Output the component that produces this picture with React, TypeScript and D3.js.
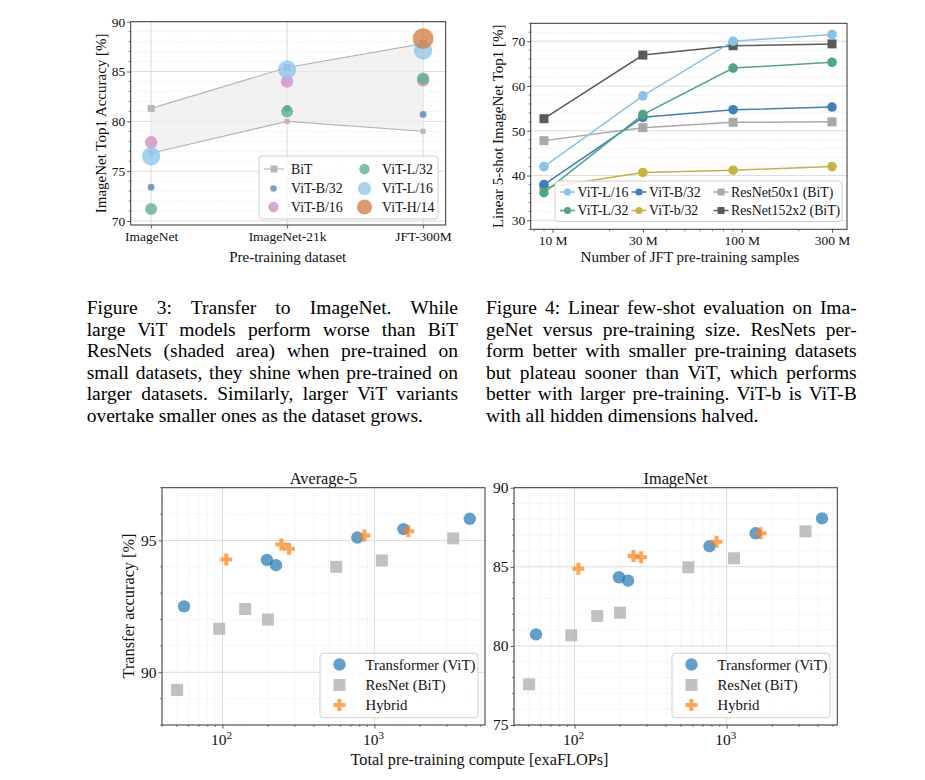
import { useEffect, useRef } from "react"
import * as d3 from "d3"

const FONT = "'Liberation Serif', 'Times New Roman', serif"

// Figure 3: transfer to ImageNet
const datasets = ["ImageNet", "ImageNet-21k", "JFT-300M"]
const bitUpper = [81.3, 85.4, 87.8]
const bitLower = [76.8, 80.0, 79.0]
const vitB32 = [73.4, 81.3, 80.7]
const vitB16 = [77.9, 84.0, 84.1]
const vitL32 = [71.2, 81.0, 84.3]
const vitL16 = [76.5, 85.2, 87.1]
const vitH14 = [null, null, 88.3]

// Figure 4: linear 5-shot vs pre-training samples (millions)
const samples = [9, 30, 90, 300]
const sampleTicks = [10, 30, 100, 300]
const fsL16 = [42.0, 57.8, 70.0, 71.5]
const fsL32 = [36.2, 53.6, 64.0, 65.3]
const fsB32 = [38.0, 53.0, 54.7, 55.3]
const fsb32 = [37.3, 40.7, 41.2, 42.0]
const fsR50 = [47.8, 50.7, 51.9, 52.0]
const fsR152 = [52.7, 66.9, 69.0, 69.4]

// Figure 5: transfer accuracy vs compute (exaFLOPs)
const vitCompute = [55.8, 196, 225, 772, 1550, 4240]
const resnetCompute = [50.3, 95.2, 141, 199, 560, 1118, 3300]
const hybridCompute = [106, 244, 274, 859, 1671]
const avg5Vit = [92.5, 94.26, 94.06, 95.11, 95.43, 95.82]
const avg5Resnet = [89.33, 91.65, 92.4, 92.0, 94.0, 94.24, 95.08]
const avg5Hybrid = [94.28, 94.85, 94.68, 95.19, 95.35]
const inetVit = [80.73, 84.34, 84.12, 86.3, 87.12, 88.06]
const inetResnet = [77.57, 80.67, 81.89, 82.1, 84.97, 85.54, 87.24]
const inetHybrid = [84.88, 85.68, 85.6, 86.59, 87.12]

const captionLeft = [
  "Figure 3:  Transfer to ImageNet.  While",
  "large ViT models perform worse than BiT",
  "ResNets (shaded area) when pre-trained on",
  "small datasets, they shine when pre-trained on",
  "larger datasets.  Similarly, larger ViT variants",
  "overtake smaller ones as the dataset grows.",
]
const captionRight = [
  "Figure 4: Linear few-shot evaluation on Ima-",
  "geNet versus pre-training size.  ResNets per-",
  "form better with smaller pre-training datasets",
  "but plateau sooner than ViT, which performs",
  "better with larger pre-training. ViT-b is ViT-B",
  "with all hidden dimensions halved.",
]

type G = d3.Selection<SVGGElement, unknown, null, undefined>

const GRID_MAJOR = "#dcdcdc"
const GRID_MINOR = "#e2e2e2"
const TOP_TICK = 13.5
const TOP_LABEL = 15
const BOT_TICK = 15.5
const BOT_LABEL = 16.3
const BOT_LEGEND = 14.8

function styleAxis(a: G, size: number) {
  a.select(".domain").remove()
  a.selectAll("text").attr("font-family", FONT).attr("font-size", size).attr("fill", "#111")
  a.selectAll("line").attr("stroke", "#333").attr("stroke-width", 0.8)
}

function frame(g: G, x0: number, y0: number, x1: number, y1: number) {
  g.append("rect")
    .attr("x", x0).attr("y", y0).attr("width", x1 - x0).attr("height", y1 - y0)
    .attr("fill", "none").attr("stroke", "#333").attr("stroke-width", 1)
}

function hGrid(g: G, y: d3.ScaleLinear<number, number>, x0: number, x1: number, major: number[], minor: number[]) {
  g.selectAll(null).data(minor).join("line")
    .attr("x1", x0).attr("x2", x1).attr("y1", (d) => y(d)).attr("y2", (d) => y(d))
    .attr("stroke", GRID_MINOR).attr("stroke-width", 0.8).attr("stroke-dasharray", "1,1.5")
  g.selectAll(null).data(major).join("line")
    .attr("x1", x0).attr("x2", x1).attr("y1", (d) => y(d)).attr("y2", (d) => y(d))
    .attr("stroke", GRID_MAJOR).attr("stroke-width", 1)
}

function vGrid(g: G, x: (v: number) => number, y0: number, y1: number, major: number[], minor: number[]) {
  g.selectAll(null).data(minor).join("line")
    .attr("y1", y0).attr("y2", y1).attr("x1", (d) => x(d)).attr("x2", (d) => x(d))
    .attr("stroke", GRID_MINOR).attr("stroke-width", 0.8).attr("stroke-dasharray", "1,1.5")
  g.selectAll(null).data(major).join("line")
    .attr("y1", y0).attr("y2", y1).attr("x1", (d) => x(d)).attr("x2", (d) => x(d))
    .attr("stroke", GRID_MAJOR).attr("stroke-width", 1)
}

function label(g: G, text: string, x: number, y: number, size: number, rotate = false) {
  g.append("text")
    .attr("transform", rotate ? `translate(${x},${y}) rotate(-90)` : `translate(${x},${y})`)
    .attr("text-anchor", "middle")
    .attr("font-family", FONT).attr("font-size", size).attr("fill", "#111")
    .text(text)
}

function legendBox(g: G, x0: number, y0: number, x1: number, y1: number) {
  g.append("rect")
    .attr("x", x0).attr("y", y0).attr("width", x1 - x0).attr("height", y1 - y0)
    .attr("rx", 3).attr("fill", "#fff").attr("fill-opacity", 0.8)
    .attr("stroke", "#d0d0d0").attr("stroke-width", 1)
}

function legendText(g: G, text: string, x: number, y: number, size: number) {
  g.append("text").attr("x", x).attr("y", y).attr("dy", "0.35em")
    .attr("font-family", FONT).attr("font-size", size).attr("fill", "#111").text(text)
}

function range(a: number, b: number, step: number) {
  return d3.range(a, b + step / 2, step)
}

function logMinor(lo: number, hi: number, majors: number[]) {
  const out: number[] = []
  for (let e = Math.floor(Math.log10(lo)); e <= Math.ceil(Math.log10(hi)); e++) {
    for (let k = 1; k <= 9; k++) {
      const v = k * 10 ** e
      if (v >= lo && v <= hi && !majors.includes(v)) out.push(v)
    }
  }
  return out
}

function drawFig3(g: G) {
  const [x0, x1, y0, y1] = [130.7, 445.7, 21.7, 225]
  const x = d3.scaleLinear().domain([-0.15, 2.166]).range([x0, x1])
  const y = d3.scaleLinear().domain([69.6, 90]).range([y1, y0])
  const idx = [0, 1, 2]

  hGrid(g, y, x0, x1, range(70, 90, 5), range(70, 90, 1).filter((v) => v % 5 !== 0))
  vGrid(g, x, y0, y1, idx, [])

  const area = d3.area<number>().x((i) => x(i)).y0((i) => y(bitLower[i])).y1((i) => y(bitUpper[i]))
  g.append("path").attr("d", area(idx)).attr("fill", "#ececec").attr("fill-opacity", 0.7)
  const line = (vals: number[]) => d3.line<number>().x((i) => x(i)).y((i) => y(vals[i]))(idx)
  ;[bitUpper, bitLower].forEach((vals, k) => {
    g.append("path").attr("d", line(vals)).attr("fill", "none").attr("stroke", "#b4b4b4").attr("stroke-width", 1.1)
    const s = k === 0 ? 7 : 5
    g.selectAll(null).data(idx).join("rect")
      .attr("x", (i) => x(i) - s / 2).attr("y", (i) => y(vals[i]) - s / 2)
      .attr("width", s).attr("height", s).attr("fill", "#b8b8b8")
  })

  const vit = [
    { name: "ViT-B/32", vals: vitB32, r: 3.4, color: "#4f86c0", lr: 3.2 },
    { name: "ViT-B/16", vals: vitB16, r: 6.2, color: "#cf8fc0", lr: 5.2 },
    { name: "ViT-L/32", vals: vitL32, r: 6.0, color: "#5cae8c", lr: 5.2 },
    { name: "ViT-L/16", vals: vitL16, r: 9.2, color: "#8ec7ee", lr: 6.6 },
    { name: "ViT-H/14", vals: vitH14, r: 10.4, color: "#d57d46", lr: 7.6 },
  ]
  vit.forEach((s) => {
    g.selectAll(null).data(idx.filter((i) => s.vals[i] != null)).join("circle")
      .attr("cx", (i) => x(i)).attr("cy", (i) => y(s.vals[i] as number)).attr("r", s.r)
      .attr("fill", s.color).attr("fill-opacity", 0.78)
  })

  frame(g, x0, y0, x1, y1)
  const ax = g.append("g").attr("transform", `translate(0,${y1})`)
    .call(d3.axisBottom(x).tickValues(idx).tickFormat((i) => datasets[i as number]).tickSize(3.5).tickPadding(3))
  styleAxis(ax, TOP_TICK)
  const ay = g.append("g").attr("transform", `translate(${x0},0)`)
    .call(d3.axisLeft(y).tickValues(range(70, 90, 5)).tickSize(3.5).tickPadding(2))
  styleAxis(ay, TOP_TICK)
  g.selectAll(null).data(range(70, 90, 1).filter((v) => v % 5 !== 0)).join("line")
    .attr("x1", x0 - 2).attr("x2", x0).attr("y1", (d) => y(d)).attr("y2", (d) => y(d))
    .attr("stroke", "#333").attr("stroke-width", 0.6)

  label(g, "ImageNet Top1 Accuracy [%]", 106, (y0 + y1) / 2, TOP_LABEL, true)
  label(g, "Pre-training dataset", (x0 + x1) / 2 - 0.5, 262, TOP_LABEL)

  // legend
  legendBox(g, 259, 156, 438, 219)
  const rows = [169, 188.5, 207]
  g.append("line").attr("x1", 264).attr("x2", 284).attr("y1", rows[0]).attr("y2", rows[0])
    .attr("stroke", "#b4b4b4").attr("stroke-width", 1.1)
  g.append("rect").attr("x", 270.5).attr("y", rows[0] - 3.5).attr("width", 7).attr("height", 7).attr("fill", "#b8b8b8")
  legendText(g, "BiT", 291, rows[0], 13.8)
  const slots = [
    [273.5, rows[1], 291], [273.5, rows[2], 291],
    [364.5, rows[0], 382], [364.5, rows[1], 382], [364.5, rows[2], 382],
  ]
  vit.forEach((s, k) => {
    const [mx, my, tx] = slots[k]
    g.append("circle").attr("cx", mx).attr("cy", my).attr("r", s.lr).attr("fill", s.color).attr("fill-opacity", 0.78)
    legendText(g, s.name, tx, my, 13.8)
  })
}

function drawFig4(g: G) {
  const [x0, x1, y0, y1] = [530.7, 847, 23.3, 229.3]
  const x = d3.scaleLog().domain([7.66, 360]).range([x0, x1])
  const y = d3.scaleLinear().domain([28, 74]).range([y1, y0])

  hGrid(g, y, x0, x1, range(30, 70, 10), range(28, 74, 2).filter((v) => v % 10 !== 0))

  const series = [
    { name: "ResNet50x1 (BiT)", vals: fsR50, color: "#a9a9a9", sq: true },
    { name: "ResNet152x2 (BiT)", vals: fsR152, color: "#5a5a5a", sq: true },
    { name: "ViT-b/32", vals: fsb32, color: "#c5b43f", sq: false },
    { name: "ViT-B/32", vals: fsB32, color: "#3f7fbf", sq: false },
    { name: "ViT-L/32", vals: fsL32, color: "#4fa585", sq: false },
    { name: "ViT-L/16", vals: fsL16, color: "#86c2ec", sq: false },
  ]
  const idx = d3.range(samples.length)
  series.forEach((s) => {
    g.append("path")
      .attr("d", d3.line<number>().x((i) => x(samples[i])).y((i) => y(s.vals[i]))(idx))
      .attr("fill", "none").attr("stroke", s.color).attr("stroke-width", 1.5)
    if (s.sq) {
      g.selectAll(null).data(idx).join("rect")
        .attr("x", (i) => x(samples[i]) - 4.5).attr("y", (i) => y(s.vals[i]) - 4.5)
        .attr("width", 9).attr("height", 9).attr("fill", s.color)
    } else {
      g.selectAll(null).data(idx).join("circle")
        .attr("cx", (i) => x(samples[i])).attr("cy", (i) => y(s.vals[i])).attr("r", 4.8).attr("fill", s.color)
    }
  })

  frame(g, x0, y0, x1, y1)
  const ax = g.append("g").attr("transform", `translate(0,${y1})`)
    .call(d3.axisBottom(x).tickValues(sampleTicks).tickFormat((d) => `${d} M`).tickSize(3.5).tickPadding(3))
  styleAxis(ax, TOP_TICK)
  g.selectAll(null).data(logMinor(7.66, 360, sampleTicks)).join("line")
    .attr("x1", (d) => x(d)).attr("x2", (d) => x(d)).attr("y1", y1).attr("y2", y1 + 2)
    .attr("stroke", "#333").attr("stroke-width", 0.6)
  const ay = g.append("g").attr("transform", `translate(${x0},0)`)
    .call(d3.axisLeft(y).tickValues(range(30, 70, 10)).tickSize(3.5).tickPadding(2))
  styleAxis(ay, TOP_TICK)
  g.selectAll(null).data(range(28, 74, 2).filter((v) => v % 10 !== 0)).join("line")
    .attr("x1", x0 - 2).attr("x2", x0).attr("y1", (d) => y(d)).attr("y2", (d) => y(d))
    .attr("stroke", "#333").attr("stroke-width", 0.6)

  label(g, "Linear 5-shot ImageNet Top1 [%]", 503, (y0 + y1) / 2, TOP_LABEL, true)
  label(g, "Number of JFT pre-training samples", 690, 262, TOP_LABEL)

  legendBox(g, 555, 181, 842, 221.5)
  const order = ["ViT-L/16", "ViT-L/32", "ViT-B/32", "ViT-b/32", "ResNet50x1 (BiT)", "ResNet152x2 (BiT)"]
  const cols = [560, 631.5, 713.5]
  const rowsY = [192, 210.5]
  order.forEach((name, k) => {
    const s = series.find((d) => d.name === name)!
    const lx = cols[Math.floor(k / 2)]
    const ly = rowsY[k % 2]
    g.append("line").attr("x1", lx).attr("x2", lx + 15).attr("y1", ly).attr("y2", ly)
      .attr("stroke", s.color).attr("stroke-width", 1.5)
    if (s.sq) {
      g.append("rect").attr("x", lx + 4).attr("y", ly - 3.5).attr("width", 7).attr("height", 7).attr("fill", s.color)
    } else {
      g.append("circle").attr("cx", lx + 7.5).attr("cy", ly).attr("r", 3.6).attr("fill", s.color)
    }
    legendText(g, name, lx + 17.5, ly, 13.8)
  })
}

function drawScatter(
  g: G, x0: number, x1: number, title: string,
  yDomain: [number, number], yMajor: number[],
  vitAcc: number[], resAcc: number[], hybAcc: number[], legendX: number,
) {
  const [y0, y1] = [487.7, 725]
  const x = d3.scaleLog().domain([40, 5340]).range([x0, x1])
  const y = d3.scaleLinear().domain(yDomain).range([y1, y0])
  const minorY = range(yDomain[0], yDomain[1], 1).filter((v) => !yMajor.includes(v))
  const majorX = [100, 1000]
  const minorX = logMinor(40, 5340, majorX)

  hGrid(g, y, x0, x1, yMajor, minorY)
  vGrid(g, x, y0, y1, majorX, minorX)

  g.selectAll(null).data(vitCompute).join("circle")
    .attr("cx", (d) => x(d)).attr("cy", (_, i) => y(vitAcc[i])).attr("r", 6.2)
    .attr("fill", "#1f77b4").attr("fill-opacity", 0.7)
  g.selectAll(null).data(resnetCompute).join("rect")
    .attr("x", (d) => x(d) - 6).attr("y", (_, i) => y(resAcc[i]) - 6).attr("width", 12).attr("height", 12)
    .attr("fill", "#a6a6a6").attr("fill-opacity", 0.7)
  const cross = d3.symbol(d3.symbolCross, 80)
  g.selectAll(null).data(hybridCompute).join("path")
    .attr("d", cross).attr("transform", (d, i) => `translate(${x(d)},${y(hybAcc[i])})`)
    .attr("fill", "#ff7f0e").attr("fill-opacity", 0.7)

  frame(g, x0, y0, x1, y1)
  const ax = g.append("g").attr("transform", `translate(0,${y1})`)
    .call(d3.axisBottom(x).tickValues(majorX).tickFormat(() => "").tickSize(3.5))
  styleAxis(ax, BOT_TICK)
  majorX.forEach((v) => {
    const t = g.append("text").attr("x", x(v) - 1).attr("y", y1 + 19.5).attr("text-anchor", "middle")
      .attr("font-family", FONT).attr("font-size", BOT_TICK).attr("fill", "#111")
    t.append("tspan").text("10")
    t.append("tspan").attr("dy", -6).attr("font-size", 11).text(String(Math.round(Math.log10(v))))
  })
  g.selectAll(null).data(minorX).join("line")
    .attr("x1", (d) => x(d)).attr("x2", (d) => x(d)).attr("y1", y1).attr("y2", y1 + 2)
    .attr("stroke", "#333").attr("stroke-width", 0.6)
  const ay = g.append("g").attr("transform", `translate(${x0},0)`)
    .call(d3.axisLeft(y).tickValues(yMajor).tickSize(3.5).tickPadding(2))
  styleAxis(ay, BOT_TICK)
  g.selectAll(null).data(minorY).join("line")
    .attr("x1", x0 - 2).attr("x2", x0).attr("y1", (d) => y(d)).attr("y2", (d) => y(d))
    .attr("stroke", "#333").attr("stroke-width", 0.6)

  label(g, title, (x0 + x1) / 2, 483.5, BOT_LABEL)

  legendBox(g, legendX, 653.3, legendX + 158, 717.7)
  const rows = [664.5, 685, 705]
  const mx = legendX + 19.5
  g.append("circle").attr("cx", mx).attr("cy", rows[0]).attr("r", 6.2).attr("fill", "#1f77b4").attr("fill-opacity", 0.7)
  g.append("rect").attr("x", mx - 6).attr("y", rows[1] - 6).attr("width", 12).attr("height", 12)
    .attr("fill", "#a6a6a6").attr("fill-opacity", 0.7)
  g.append("path").attr("d", cross).attr("transform", `translate(${mx},${rows[2]})`)
    .attr("fill", "#ff7f0e").attr("fill-opacity", 0.7)
  legendText(g, "Transformer (ViT)", legendX + 45.5, rows[0], BOT_LEGEND)
  legendText(g, "ResNet (BiT)", legendX + 45.5, rows[1], BOT_LEGEND)
  legendText(g, "Hybrid", legendX + 45.5, rows[2], BOT_LEGEND)
}

function drawCaption(g: G, lines: string[], x0: number, x1: number, baselines: number[]) {
  lines.forEach((line, k) => {
    const clean = line.replace(/\s+/g, " ")
    const t = g.append("text").attr("x", x0).attr("y", baselines[k])
      .attr("font-family", FONT).attr("font-size", 19.5).attr("fill", "#000")
      .text(clean)
    if (k < lines.length - 1) {
      const node = t.node() as SVGTextElement
      const natural = node.getComputedTextLength()
      const spaces = (clean.match(/ /g) || []).length
      if (spaces > 0) t.attr("word-spacing", (x1 - x0 - natural) / spaces)
    }
  })
}

export default function App() {
  const svgRef = useRef<SVGSVGElement>(null)

  useEffect(() => {
    if (!svgRef.current) return
    const svg = d3.select(svgRef.current)
    svg.selectAll("*").remove()

    drawFig3(svg.append("g"))
    drawFig4(svg.append("g"))

    const base = [314.3, 335.8, 357.3, 378.8, 400.3, 421.8]
    drawCaption(svg.append("g"), captionLeft, 86.7, 458, base)
    drawCaption(svg.append("g"), captionRight, 486, 856.7, base)

    drawScatter(svg.append("g"), 162, 485, "Average-5", [88, 97], [90, 95],
      avg5Vit, avg5Resnet, avg5Hybrid, 320)
    drawScatter(svg.append("g"), 514, 837.3, "ImageNet", [75, 90], [75, 80, 85, 90],
      inetVit, inetResnet, inetHybrid, 672)

    const g = svg.append("g")
    label(g, "Transfer accuracy [%]", 134, 606, BOT_LABEL, true)
    label(g, "Total pre-training compute [exaFLOPs]", 479.5, 765, BOT_LABEL)
  }, [])

  return (
    <svg
      ref={svgRef}
      width={925}
      height={780}
      style={{ position: "absolute", left: 0, top: 0, background: "#fff" }}
    />
  )
}
